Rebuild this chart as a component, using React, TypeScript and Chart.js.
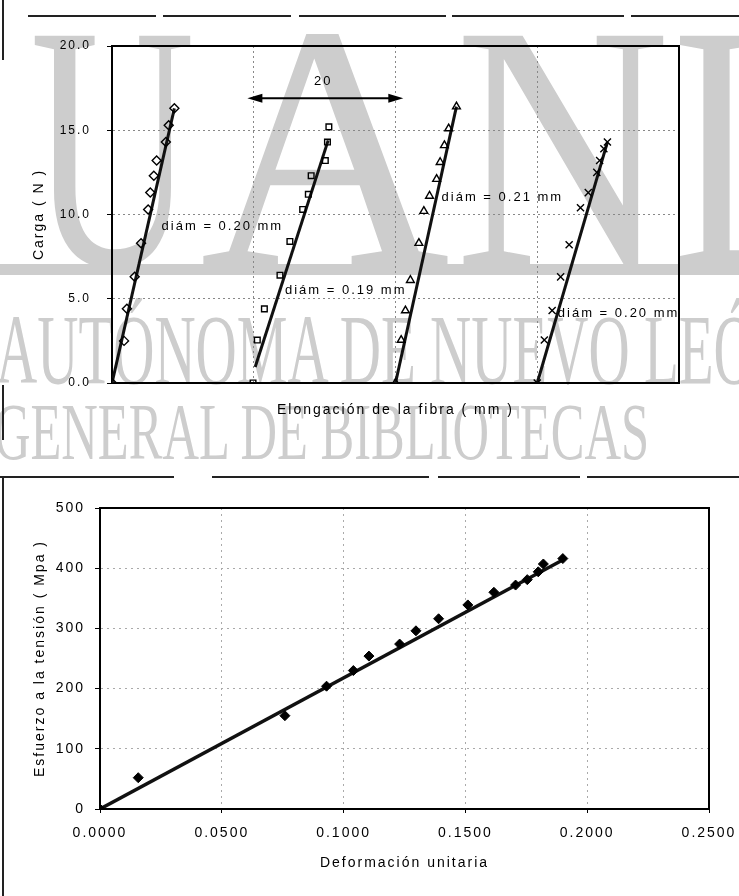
import React, { useEffect, useRef } from 'react';
import { Chart, registerables } from 'chart.js';

Chart.register(...registerables);

// ---------- Top chart: Carga (N) vs Elongación de la fibra (mm) ----------
const fiberA_x = [0, 1.7, 2.1, 3.2, 4.1, 5.1, 5.4, 5.9, 6.3, 7.6, 8.0, 8.8];
const fiberA_y = [0, 2.5, 4.4, 6.3, 8.3, 10.3, 11.3, 12.3, 13.2, 14.3, 15.3, 16.3];
const fiberB_x = [19.9, 20.5, 21.5, 23.7, 25.1, 26.9, 27.7, 28.1, 30.1, 30.4, 30.6];
const fiberB_y = [0, 2.55, 4.4, 6.4, 8.4, 10.3, 11.2, 12.3, 13.2, 14.3, 15.2];
const fiberC_x = [40.0, 40.8, 41.4, 42.1, 43.3, 44.0, 44.8, 45.8, 46.3, 46.9, 47.5, 48.6];
const fiberC_y = [0, 2.55, 4.3, 6.1, 8.3, 10.2, 11.1, 12.1, 13.1, 14.1, 15.1, 16.4];
const fiberD_x = [60.0, 61.0, 62.1, 63.3, 64.5, 66.1, 67.2, 68.4, 68.8, 69.4, 69.9];
const fiberD_y = [0, 2.55, 4.3, 6.3, 8.2, 10.4, 11.3, 12.5, 13.2, 13.9, 14.3];

const fitA_x = [0, 8.8];
const fitA_y = [0, 16.3];
const fitB_x = [20.2, 30.5];
const fitB_y = [0.95, 14.4];
const fitC_x = [40.0, 48.6];
const fitC_y = [0, 16.4];
const fitD_x = [60.0, 69.9];
const fitD_y = [0, 14.3];

const cargaTicks = [0, 5, 10, 15, 20];
const diamLabels = ['diám = 0.20 mm', 'diám = 0.19 mm', 'diám = 0.21 mm', 'diám = 0.20 mm'];
const diamLabelX = [7.0, 24.4, 46.5, 62.9];
const diamLabelY = [9.3, 5.5, 11.0, 4.1];
const spanLabel = '20';
const spanLabelAt = [29.8, 17.9];
const spanArrow = [19.1, 41.1, 16.9];

// ---------- Bottom chart: Esfuerzo (MPa) vs Deformación unitaria ----------
const strain = [0, 0.0157, 0.0759, 0.093, 0.104, 0.1104, 0.123, 0.1297, 0.139, 0.151, 0.1617, 0.1706, 0.1754, 0.1799, 0.182, 0.19];
const stress = [0, 52, 155, 204, 230, 254, 274, 296, 316, 339, 360, 372, 381, 394, 407, 416];
const stressFit_x = [0, 0.1905];
const stressFit_y = [0, 415];

const FONT = '"Liberation Sans", Arial, Helvetica, sans-serif';

const pts = (xs: number[], ys: number[]) => xs.map((x, i) => ({ x, y: ys[i] }));

const spacingPlugin = {
  id: 'spacing',
  beforeUpdate(chart: any) { chart.ctx.letterSpacing = '2px'; },
  beforeDraw(chart: any) { chart.ctx.letterSpacing = '2px'; },
};

const framePlugin = {
  id: 'frame',
  beforeDatasetsDraw(chart: any) {
    const { ctx, chartArea: a } = chart;
    ctx.save();
    ctx.strokeStyle = '#000';
    ctx.lineWidth = 2;
    ctx.beginPath();
    ctx.moveTo(a.left, a.top);
    ctx.lineTo(a.right, a.top);
    ctx.lineTo(a.right, a.bottom);
    ctx.stroke();
    ctx.restore();
  },
};

const annotationPlugin = {
  id: 'annot',
  afterDatasetsDraw(chart: any) {
    const { ctx } = chart;
    const sx = chart.scales.x, sy = chart.scales.y;
    ctx.save();
    ctx.letterSpacing = '2px';
    ctx.fillStyle = '#000';
    ctx.strokeStyle = '#000';
    ctx.font = `13px ${FONT}`;
    ctx.textBaseline = 'middle';
    ctx.textAlign = 'left';
    diamLabels.forEach((t, i) => {
      ctx.fillText(t, sx.getPixelForValue(diamLabelX[i]), sy.getPixelForValue(diamLabelY[i]));
    });
    const x1 = sx.getPixelForValue(spanArrow[0]);
    const x2 = sx.getPixelForValue(spanArrow[1]);
    const yy = sy.getPixelForValue(spanArrow[2]);
    ctx.lineWidth = 2;
    ctx.beginPath();
    ctx.moveTo(x1 + 10, yy);
    ctx.lineTo(x2 - 10, yy);
    ctx.stroke();
    ctx.beginPath();
    ctx.moveTo(x1, yy); ctx.lineTo(x1 + 15, yy - 4.5); ctx.lineTo(x1 + 15, yy + 4.5); ctx.closePath();
    ctx.fill();
    ctx.beginPath();
    ctx.moveTo(x2, yy); ctx.lineTo(x2 - 15, yy - 4.5); ctx.lineTo(x2 - 15, yy + 4.5); ctx.closePath();
    ctx.fill();
    ctx.textAlign = 'center';
    ctx.fillText(spanLabel, sx.getPixelForValue(spanLabelAt[0]), sy.getPixelForValue(spanLabelAt[1]));
    ctx.restore();
  },
};

const gridColor = (edges: number[], col: string) => (c: any) =>
  c.tick && edges.includes(c.tick.value) ? 'rgba(0,0,0,0)' : col;

function TopChart() {
  const ref = useRef<HTMLCanvasElement | null>(null);
  useEffect(() => {
    if (!ref.current) return;
    const markerBase = { showLine: false, borderColor: '#000', backgroundColor: 'rgba(0,0,0,0)', borderWidth: 1.4 };
    const fitBase = { showLine: true, pointRadius: 0, borderColor: '#111', borderWidth: 3 };
    const chart = new Chart(ref.current, {
      type: 'scatter',
      data: {
        datasets: [
          { ...markerBase, data: pts(fiberA_x, fiberA_y), pointStyle: 'rectRot', pointRadius: 4.5 },
          { ...markerBase, data: pts(fiberB_x, fiberB_y), pointStyle: 'rect', pointRadius: 4 },
          { ...markerBase, data: pts(fiberC_x, fiberC_y), pointStyle: 'triangle', pointRadius: 4.5 },
          { ...markerBase, data: pts(fiberD_x, fiberD_y), pointStyle: 'crossRot', pointRadius: 5 },
          { ...fitBase, data: pts(fitA_x, fitA_y) },
          { ...fitBase, data: pts(fitB_x, fitB_y) },
          { ...fitBase, data: pts(fitC_x, fitC_y) },
          { ...fitBase, data: pts(fitD_x, fitD_y) },
        ] as any,
      },
      options: {
        animation: false,
        responsive: false,
        maintainAspectRatio: false,
        devicePixelRatio: 1,
        layout: { padding: { top: 46, right: 60, left: 0, bottom: 0 } },
        plugins: { legend: { display: false }, tooltip: { enabled: false } },
        scales: {
          x: {
            type: 'linear',
            min: 0,
            max: 80,
            afterFit: (s: any) => { s.height = 57; s.paddingLeft = 0; s.paddingRight = 0; },
            ticks: { display: false, stepSize: 20 },
            grid: { color: gridColor([0, 80], '#888'), drawTicks: false, lineWidth: 1 },
            border: { display: true, color: '#000', width: 2, dash: [2, 3] },
            title: {
              display: true,
              text: 'Elongación de la fibra ( mm )',
              color: '#000',
              font: { family: FONT, size: 14 },
              padding: { top: 0, bottom: 21 },
            },
          },
          y: {
            type: 'linear',
            min: 0,
            max: 20,
            afterFit: (s: any) => { s.width = 112; },
            afterBuildTicks: (s: any) => { s.ticks = cargaTicks.map((v) => ({ value: v })); },
            ticks: {
              color: '#000',
              font: { family: FONT, size: 12 },
              padding: 16,
              callback: (v: any) => Number(v).toFixed(1),
            },
            grid: { color: gridColor([0, 20], '#888'), tickColor: '#000', tickLength: 5, lineWidth: 1 },
            border: { display: true, color: '#000', width: 2, dash: [2, 3] },
            title: {
              display: true,
              text: 'Carga ( N )',
              color: '#000',
              font: { family: FONT, size: 14 },
              padding: { top: 31, bottom: 0 },
            },
          },
        },
      } as any,
      plugins: [spacingPlugin, framePlugin, annotationPlugin],
    });
    return () => chart.destroy();
  }, []);
  return (
    <canvas
      ref={ref}
      width={739}
      height={440}
      style={{ position: 'absolute', left: 0, top: 0, width: 739, height: 440, zIndex: 1 }}
    />
  );
}

function BottomChart() {
  const ref = useRef<HTMLCanvasElement | null>(null);
  useEffect(() => {
    if (!ref.current) return;
    const chart = new Chart(ref.current, {
      type: 'scatter',
      data: {
        datasets: [
          {
            data: pts(strain, stress),
            showLine: false,
            pointStyle: 'rectRot',
            pointRadius: 5,
            borderColor: '#000',
            backgroundColor: '#000',
            borderWidth: 1,
          },
          {
            data: pts(stressFit_x, stressFit_y),
            showLine: true,
            pointRadius: 0,
            borderColor: '#111',
            borderWidth: 3.5,
          },
        ] as any,
      },
      options: {
        animation: false,
        responsive: false,
        maintainAspectRatio: false,
        devicePixelRatio: 1,
        layout: { padding: { top: 48, right: 30, left: 0, bottom: 0 } },
        plugins: { legend: { display: false }, tooltip: { enabled: false } },
        scales: {
          x: {
            type: 'linear',
            min: 0,
            max: 0.25,
            afterFit: (s: any) => { s.height = 87; s.paddingLeft = 0; s.paddingRight = 0; },
            ticks: {
              stepSize: 0.05,
              color: '#000',
              font: { family: FONT, size: 14 },
              padding: 12,
              maxRotation: 0,
              callback: (v: any) => Number(v).toFixed(4),
            },
            grid: { color: gridColor([0, 0.25], '#aaa'), tickColor: '#000', tickLength: 4, lineWidth: 1 },
            border: { display: true, color: '#000', width: 2, dash: [2, 4] },
            title: {
              display: true,
              text: 'Deformación unitaria',
              color: '#000',
              font: { family: FONT, size: 14 },
              padding: { top: 0, bottom: 24 },
            },
          },
          y: {
            type: 'linear',
            min: 0,
            max: 500,
            afterFit: (s: any) => { s.width = 100; },
            ticks: {
              stepSize: 100,
              color: '#000',
              font: { family: FONT, size: 14 },
              padding: 10,
            },
            grid: { color: gridColor([0, 500], '#aaa'), tickColor: '#000', tickLength: 5, lineWidth: 1 },
            border: { display: true, color: '#000', width: 2, dash: [2, 4] },
            title: {
              display: true,
              text: 'Esfuerzo a la tensión ( Mpa )',
              color: '#000',
              font: { family: FONT, size: 14 },
              padding: { top: 32, bottom: 0 },
            },
          },
        },
      } as any,
      plugins: [spacingPlugin, framePlugin],
    });
    return () => chart.destroy();
  }, []);
  return (
    <canvas
      ref={ref}
      width={739}
      height={436}
      style={{ position: 'absolute', left: 0, top: 460, width: 739, height: 436, zIndex: 1 }}
    />
  );
}

const WM = '#cdcdcd';
const SERIF = '"Liberation Serif", "Times New Roman", serif';

function Watermark() {
  return (
    <svg
      width={739}
      height={896}
      style={{ position: 'absolute', left: 0, top: 0, zIndex: 0 }}
    >
      <g fill={WM} fontFamily={SERIF}>
        <text x={30} y={265} fontSize={350} textLength={165} lengthAdjust="spacingAndGlyphs">U</text>
        <text x={200} y={265} fontSize={350} textLength={250} lengthAdjust="spacingAndGlyphs">A</text>
        <text x={455} y={265} fontSize={350} textLength={215} lengthAdjust="spacingAndGlyphs">N</text>
        <text x={672} y={265} fontSize={350} textLength={170} lengthAdjust="spacingAndGlyphs">L</text>
        <rect x={0} y={264} width={739} height={11} />
        <text x={-4} y={383} fontSize={100} textLength={800} lengthAdjust="spacingAndGlyphs">AUTÓNOMA DE NUEVO LEÓN</text>
        <text x={-6} y={459} fontSize={80} textLength={655} lengthAdjust="spacingAndGlyphs">GENERAL DE BIBLIOTECAS</text>
      </g>
    </svg>
  );
}

const line = (left: number, top: number, width: number, height: number, color = '#222') => (
  <div style={{ position: 'absolute', left, top, width, height, background: color }} />
);

export default function App() {
  return (
    <div style={{ position: 'absolute', left: 0, top: 0, width: 739, height: 896, background: '#fff', overflow: 'hidden' }}>
      <Watermark />
      {line(28, 15, 128, 2)}
      {line(163, 15, 128, 2)}
      {line(299, 15, 147, 2)}
      {line(452, 15, 172, 2)}
      {line(631, 15, 108, 2)}
      {line(2, 0, 2, 60)}
      {line(2, 385, 2, 55)}
      {line(0, 476, 174, 2)}
      {line(212, 476, 217, 2)}
      {line(438, 476, 142, 2)}
      {line(587, 476, 152, 2)}
      {line(2, 476, 2, 420)}
      <TopChart />
      <BottomChart />
    </div>
  );
}
